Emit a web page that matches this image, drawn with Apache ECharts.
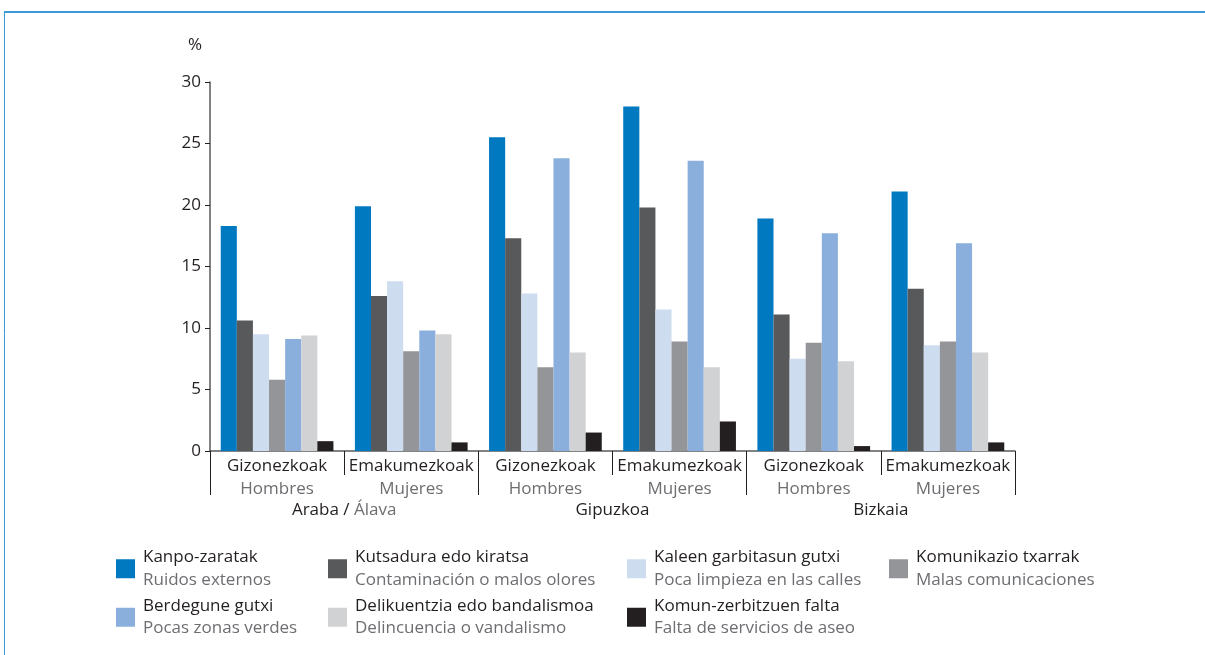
<!DOCTYPE html>
<html><head><meta charset="utf-8">
<script src="https://cdn.jsdelivr.net/npm/echarts@6/dist/echarts.min.js"></script>
<style>html,body{margin:0;padding:0;background:#fff}#c{width:1205px;height:655px}</style>
</head><body><div id="c"></div>
<script>
const regionsEu = ['Araba / ', 'Gipuzkoa', 'Bizkaia'];
const regionsEs = ['Álava', '', ''];
const gendersEu = ['Gizonezkoak', 'Emakumezkoak'];
const gendersEs = ['Hombres', 'Mujeres'];
const categories = ['Araba-H', 'Araba-M', 'Gipuzkoa-H', 'Gipuzkoa-M', 'Bizkaia-H', 'Bizkaia-M'];
const yTicks = [0, 5, 10, 15, 20, 25, 30];

const seriesEu = ['Kanpo-zaratak', 'Kutsadura edo kiratsa', 'Kaleen garbitasun gutxi', 'Komunikazio txarrak', 'Berdegune gutxi', 'Delikuentzia edo bandalismoa', 'Komun-zerbitzuen falta'];
const seriesEs = ['Ruidos externos', 'Contaminación o malos olores', 'Poca limpieza en las calles', 'Malas comunicaciones', 'Pocas zonas verdes', 'Delincuencia o vandalismo', 'Falta de servicios de aseo'];

const ruidos      = [18.3, 19.9, 25.5, 28.0, 18.9, 21.1];
const contaminac  = [10.6, 12.6, 17.3, 19.8, 11.1, 13.2];
const limpieza    = [9.5, 13.8, 12.8, 11.5, 7.5, 8.6];
const comunicac   = [5.8, 8.1, 6.8, 8.9, 8.8, 8.9];
const verdes      = [9.1, 9.8, 23.8, 23.6, 17.7, 16.9];
const delincuen   = [9.4, 9.5, 8.0, 6.8, 7.3, 8.0];
const aseo        = [0.8, 0.7, 1.5, 2.4, 0.4, 0.7];
const values = [ruidos, contaminac, limpieza, comunicac, verdes, delincuen, aseo];

const colors = ['#0079c1', '#58595b', '#cddcef', '#939598', '#8aafdc', '#d1d2d4', '#231f20'];

const FONT = '"Open Sans", sans-serif';
const FS = 17;
const DARK = '#231f20', GREY = '#6d6e71';

const chart = echarts.init(document.getElementById('c'));

const legendCols = [[0, 4], [1, 5], [2, 6], [3]];
const legendLefts = [116, 328, 627, 889];

const option = {
  animation: false,
  color: colors,
  textStyle: { fontFamily: FONT },
  grid: { left: 210, right: 190, top: 82, bottom: 204 },
  xAxis: [
    {
      type: 'category', data: categories, position: 'bottom',
      axisLine: { show: true, lineStyle: { color: '#58595b', width: 1.5 } },
      axisTick: { show: true, length: 24, interval: 0, lineStyle: { color: DARK } },
      axisLabel: {
        interval: 0, margin: 4,
        formatter: (v, i) => '{a|' + gendersEu[i % 2] + '}\n{b|' + gendersEs[i % 2] + '}',
        rich: {
          a: { fontFamily: FONT, fontSize: FS, color: DARK, lineHeight: 23 },
          b: { fontFamily: FONT, fontSize: FS, color: GREY, lineHeight: 23 }
        }
      }
    },
    {
      type: 'category', data: regionsEu, position: 'bottom', offset: 0,
      axisLine: { show: false },
      axisTick: { show: true, length: 44, interval: 0, lineStyle: { color: DARK } },
      axisLabel: {
        interval: 0, margin: 51,
        formatter: (v, i) => '{a|' + regionsEu[i] + '}' + (regionsEs[i] ? '{b|' + regionsEs[i] + '}' : ''),
        rich: {
          a: { fontFamily: FONT, fontSize: FS, color: DARK },
          b: { fontFamily: FONT, fontSize: FS, color: GREY }
        }
      }
    }
  ],
  yAxis: {
    type: 'value', min: 0, max: 30, interval: 5,
    name: '%', nameLocation: 'end', nameGap: 28,
    nameTextStyle: { fontFamily: FONT, fontSize: FS, color: DARK, align: 'right', padding: [0, 8, 0, 0] },
    axisLine: { show: true, lineStyle: { color: '#58595b', width: 1.5 } },
    axisTick: { show: true, length: 5, lineStyle: { color: DARK } },
    splitLine: { show: false },
    axisLabel: { fontFamily: FONT, fontSize: FS, color: DARK, margin: 9,
      formatter: v => yTicks.includes(v) ? String(v) : '' }
  },
  legend: legendCols.map((col, k) => ({
    orient: 'vertical', left: legendLefts[k], top: 549, padding: 0,
    itemWidth: 19, itemHeight: 19, itemGap: 9, icon: 'rect',
    selectedMode: false,
    data: col.map(i => seriesEu[i]),
    formatter: name => '{a|' + name + '}\n{b|' + seriesEs[seriesEu.indexOf(name)] + '}',
    textStyle: {
      padding: [0, 0, 0, 3],
      rich: {
        a: { fontFamily: FONT, fontSize: FS, color: DARK, lineHeight: 22.5 },
        b: { fontFamily: FONT, fontSize: FS, color: GREY, lineHeight: 22.5 }
      }
    }
  })),
  series: seriesEu.map((n, i) => ({
    name: n, type: 'bar', data: values[i], xAxisIndex: 0,
    barGap: '0%', barCategoryGap: '16%',
    itemStyle: { color: colors[i] }
  })),
  graphic: [
    { type: 'line', shape: { x1: 4, y1: 12, x2: 1205, y2: 12 }, style: { stroke: '#3d9ad6', lineWidth: 2 } },
    { type: 'line', shape: { x1: 4.5, y1: 12, x2: 4.5, y2: 655 }, style: { stroke: '#3d9ad6', lineWidth: 1 } }
  ]
};
chart.setOption(option);
</script></body></html>
